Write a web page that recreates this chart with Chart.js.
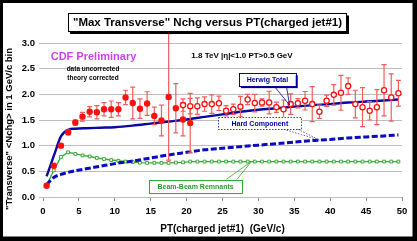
<!DOCTYPE html>
<html>
<head>
<meta charset="utf-8">
<script src="https://cdn.jsdelivr.net/npm/chart.js@4.4.1/dist/chart.umd.min.js"></script>
<style>
  html, body { margin: 0; padding: 0; background: #000; }
  #box { width: 417px; height: 241px; }
</style>
</head>
<body>
<div id="box"><canvas id="chart" width="417" height="241"></canvas></div>
<script>
// Measured "max transverse" charged multiplicity, low PT range (filled points)
const binsLow = [0.5, 1.5, 2.5, 3.5, 4.5, 5.5, 6.5, 7.5, 8.5, 9.5, 10.5,
                 11.5, 12.5, 13.5, 14.5, 15.5, 16.5, 17.5, 18.5, 19.5, 20.5];
const nchgLow = [0.22, 0.61, 1.00, 1.26, 1.45, 1.565, 1.66, 1.65, 1.71, 1.71, 1.71,
                 1.94, 1.83, 1.72, 1.82, 1.58, 1.49, 1.95, 1.73, 1.51, 1.44];
const errLow  = [0.02, 0.02, 0.03, 0.05, 0.05, 0.085, 0.10, 0.13, 0.13, 0.16, 0.13,
                 0.14, 0.31, 0.19, 0.23, 0.17, 0.30, 1.23, 0.48, 0.32, 0.58];

// high PT range (open points)
const binsHigh = [19.5, 20.5, 21.5, 22.5, 23.5, 24.5, 25.5, 26.5, 27.5, 28.5, 29.5,
                  30.5, 31.5, 32.5, 33.5, 34.5, 35.5, 36.5, 37.5, 38.5, 39.5,
                  40.5, 41.5, 42.5, 43.5, 44.5, 45.5, 46.5, 47.5, 48.5, 49.5];
const nchgHigh = [1.79, 1.77, 1.77, 1.81, 1.81, 1.825, 1.68, 1.71, 1.76, 1.90, 1.83,
                  1.84, 1.84, 1.75, 1.71, 1.81, 1.825, 1.875, 1.81, 1.66, 1.875,
                  1.99, 2.03, 2.16, 1.81, 1.75, 1.68, 1.75, 2.08, 1.94, 2.02];
const errHigh  = [0.12, 0.15, 0.16, 0.14, 0.18, 0.14, 0.10, 0.10, 0.20, 0.10, 0.17,
                  0.07, 0.22, 0.10, 0.18, 0.20, 0.09, 0.18, 0.34, 0.13, 0.11,
                  0.20, 0.34, 0.16, 0.27, 0.38, 0.18, 0.34, 0.50, 0.46, 0.25];

// Herwig curves
const curveX = [0.5, 1.5, 2.5, 3.5, 4.5, 6, 8, 10, 12.5, 15, 17.5, 20, 22.5,
                25, 27.5, 30, 32.5, 35, 37.5, 40, 42.5, 45, 47.5, 49.5];
const herwigTotal = [0.40, 0.80, 1.18, 1.31, 1.33, 1.34, 1.35, 1.36, 1.39, 1.43, 1.47, 1.51, 1.56,
                     1.61, 1.66, 1.70, 1.73, 1.76, 1.79, 1.81, 1.84, 1.86, 1.88, 1.90];
const hardComponent = [0.24, 0.38, 0.44, 0.48, 0.51, 0.55, 0.60, 0.65, 0.70, 0.76, 0.82, 0.87, 0.92,
                       0.95, 0.98, 1.01, 1.04, 1.07, 1.10, 1.12, 1.15, 1.17, 1.19, 1.21];

const remnantX = [0.5, 1.5, 2.5, 3.5, 4.5, 5.5, 6.5, 7.5, 8.5, 9.5,
                  10.5, 11.5, 12.5, 13.5, 14.5, 15.5, 16.5, 17.5, 18.5, 19.5,
                  20.5, 21.5, 22.5, 23.5, 24.5, 25.5, 26.5, 27.5, 28.5, 29.5,
                  30.5, 31.5, 32.5, 33.5, 34.5, 35.5, 36.5, 37.5, 38.5, 39.5,
                  40.5, 41.5, 42.5, 43.5, 44.5, 45.5, 46.5, 47.5, 48.5, 49.5];
const beamRemnants = [0.22, 0.52, 0.78, 0.87, 0.84, 0.81, 0.79, 0.76, 0.74, 0.72,
                      0.705, 0.69, 0.68, 0.67, 0.665, 0.665, 0.665, 0.665, 0.67, 0.675,
                      0.69, 0.69, 0.69, 0.69, 0.69, 0.69, 0.69, 0.69, 0.69, 0.69,
                      0.69, 0.69, 0.69, 0.69, 0.69, 0.69, 0.69, 0.69, 0.69, 0.69,
                      0.69, 0.69, 0.69, 0.69, 0.69, 0.69, 0.69, 0.69, 0.69, 0.69];

const xTicks = [0, 5, 10, 15, 20, 25, 30, 35, 40, 45, 50];
const yTicks = [0, 0.5, 1.0, 1.5, 2.0, 2.5, 3.0];

const FONT = '"Liberation Sans", Arial, sans-serif';

const pairs = (xs, ys) => xs.map((x, i) => ({ x: x, y: ys[i] }));

// callout boxes, placed in data coordinates
const callouts = [
  { text: 'Herwig Total', box: [27.3, 2.41, 35.2, 2.16], base: [32.2, 33.9], tip: [34.35, 1.79],
    color: '#000099', textColor: '#000099', dotted: false, shadow: true },
  { text: 'Hard Component', box: [24.4, 1.56, 36.0, 1.32], base: [33.5, 35.5], tip: [38.5, 1.11],
    color: '#3333CC', textColor: '#000099', dotted: true, shadow: false },
  { text: 'Beam-Beam Remnants', box: [14.8, 0.34, 27.7, 0.085], base: [25.5, 27.0], tip: [29.0, 0.69],
    color: '#33AA33', textColor: '#339933', dotted: false, shadow: false, up: true }
];

// frame of the slide
const framePlugin = {
  id: 'frame',
  beforeDraw(chart) {
    const ctx = chart.ctx;
    ctx.save();
    ctx.fillStyle = '#000';
    ctx.fillRect(0, 0, chart.width, chart.height);
    ctx.fillStyle = '#fff';
    ctx.fillRect(3, 3, 409.5, 233.5);
    ctx.restore();
  }
};

// vertical error bars drawn under each point dataset
const errorBars = {
  id: 'errorBars',
  beforeDatasetDraw(chart, args) {
    const ds = chart.data.datasets[args.index];
    if (!ds.errors) return;
    const { ctx, scales: { x, y } } = chart;
    ctx.save();
    ctx.strokeStyle = '#F45C5C';
    ctx.lineWidth = 1.2;
    ds.data.forEach((p, i) => {
      const px = x.getPixelForValue(p.x);
      const top = y.getPixelForValue(p.y + ds.errors[i]);
      const bot = y.getPixelForValue(p.y - ds.errors[i]);
      ctx.beginPath();
      ctx.moveTo(px, top); ctx.lineTo(px, bot);
      ctx.moveTo(px - 2.5, top); ctx.lineTo(px + 2.5, top);
      ctx.moveTo(px - 2.5, bot); ctx.lineTo(px + 2.5, bot);
      ctx.stroke();
    });
    ctx.restore();
  }
};

// titles, notes and callouts
const notes = {
  id: 'notes',
  afterDraw(chart) {
    const { ctx, scales: { x, y } } = chart;
    ctx.save();

    // title box with shadow
    ctx.fillStyle = '#000';
    ctx.fillRect(70, 15.5, 279, 18.5);
    ctx.fillStyle = '#fff';
    ctx.fillRect(68, 13.5, 279, 18.5);
    ctx.strokeStyle = '#000';
    ctx.lineWidth = 1;
    ctx.strokeRect(68.5, 13.5, 278, 18);
    ctx.fillStyle = '#000';
    ctx.font = 'bold 11.5px ' + FONT;
    ctx.textAlign = 'center';
    ctx.textBaseline = 'middle';
    ctx.fillText('"Max Transverse" Nchg versus PT(charged jet#1)', 207.5, 23);

    // y axis title
    ctx.save();
    ctx.translate(9, 129);
    ctx.rotate(-Math.PI / 2);
    ctx.font = 'bold 9.5px ' + FONT;
    ctx.fillText('"Transverse" <Nchg> in 1 GeV/c bin', 0, 0);
    ctx.restore();

    ctx.fillStyle = '#CC44EE';
    ctx.font = 'bold 11px ' + FONT;
    ctx.fillText('CDF Preliminary', 93.5, 56.5);

    ctx.fillStyle = '#000';
    ctx.font = 'bold 6.5px ' + FONT;
    ctx.fillText('data uncorrected', 93, 69.5);
    ctx.fillText('theory corrected', 93, 78);

    ctx.font = 'bold 8px ' + FONT;
    ctx.fillText('1.8 TeV |\u03B7|<1.0 PT>0.5 GeV', 242, 55.5);

    callouts.forEach(c => {
      const l = x.getPixelForValue(c.box[0]), t = y.getPixelForValue(c.box[1]);
      const r = x.getPixelForValue(c.box[2]), b = y.getPixelForValue(c.box[3]);
      const edge = c.up ? t : b;
      ctx.lineWidth = 0.8;
      ctx.strokeStyle = c.color;
      ctx.setLineDash(c.dotted ? [1.5, 1.5] : []);
      ctx.beginPath();
      ctx.moveTo(x.getPixelForValue(c.base[0]), edge);
      ctx.lineTo(x.getPixelForValue(c.tip[0]), y.getPixelForValue(c.tip[1]));
      ctx.lineTo(x.getPixelForValue(c.base[1]), edge);
      ctx.stroke();
      if (c.shadow) {
        ctx.fillStyle = '#000066';
        ctx.fillRect(l + 2, t + 2, r - l, b - t);
      }
      ctx.fillStyle = '#fff';
      ctx.fillRect(l, t, r - l, b - t);
      ctx.lineWidth = 1;
      ctx.strokeRect(Math.round(l) + 0.5, Math.round(t) + 0.5, Math.round(r - l), Math.round(b - t));
      ctx.setLineDash([]);
      ctx.fillStyle = c.textColor;
      ctx.font = 'bold 7px ' + FONT;
      ctx.fillText(c.text, (l + r) / 2, (t + b) / 2 + 0.5);
    });
    ctx.restore();
  }
};

new Chart(document.getElementById('chart'), {
  type: 'scatter',
  data: {
    datasets: [
      {
        label: 'Data (open)',
        data: pairs(binsHigh, nchgHigh),
        errors: errHigh,
        pointStyle: 'circle',
        pointRadius: 2.6,
        pointBorderWidth: 1.3,
        pointBackgroundColor: '#fff',
        pointBorderColor: '#FF1010',
        showLine: false
      },
      {
        label: 'Data (filled)',
        data: pairs(binsLow, nchgLow),
        errors: errLow,
        pointStyle: 'circle',
        pointRadius: 3.2,
        pointBorderWidth: 0,
        pointBackgroundColor: '#FF1010',
        showLine: false
      },
      {
        label: 'Herwig Total',
        data: pairs(curveX, herwigTotal),
        showLine: true,
        borderColor: '#0A0AA0',
        borderWidth: 2.4,
        pointRadius: 0,
        cubicInterpolationMode: 'monotone'
      },
      {
        label: 'Hard Component',
        data: pairs(curveX, hardComponent),
        showLine: true,
        borderColor: '#0A0ABE',
        borderWidth: 3,
        borderDash: [6, 2.5],
        pointRadius: 0,
        cubicInterpolationMode: 'monotone'
      },
      {
        label: 'Beam-Beam Remnants',
        data: pairs(remnantX, beamRemnants),
        showLine: true,
        borderColor: '#3CAA3C',
        borderWidth: 1.4,
        pointStyle: 'rect',
        pointRadius: 2,
        pointBorderWidth: 1,
        pointBackgroundColor: '#fff',
        pointBorderColor: '#3CAA3C'
      }
    ]
  },
  options: {
    responsive: false,
    animation: false,
    events: [],
    layout: { padding: { top: 43, right: 15, left: 0, bottom: 0 } },
    plugins: { legend: { display: false }, tooltip: { enabled: false } },
    scales: {
      x: {
        type: 'linear',
        min: 0,
        max: 50,
        afterFit: s => { s.height = 44; },
        afterBuildTicks: s => { s.ticks = xTicks.map(v => ({ value: v })); },
        grid: { drawOnChartArea: false, drawTicks: true, tickLength: 4, color: '#8C8C8C' },
        border: { display: false },
        ticks: { color: '#000', font: { family: FONT, size: 9.5, weight: 'bold' }, padding: 5 },
        title: {
          display: true,
          text: 'PT(charged jet#1)  (GeV/c)',
          color: '#000',
          font: { family: FONT, size: 10, weight: 'bold' },
          padding: { top: 0, bottom: 5.5 }
        }
      },
      y: {
        type: 'linear',
        min: 0,
        max: 3,
        afterFit: s => { s.width = 43; },
        afterBuildTicks: s => { s.ticks = yTicks.map(v => ({ value: v })); },
        grid: { color: '#BDBDBD', lineWidth: 1, tickLength: 4 },
        border: { display: false },
        ticks: {
          color: '#000',
          font: { family: FONT, size: 9.5, weight: 'bold' },
          padding: 4,
          callback: v => v.toFixed(1)
        }
      }
    }
  },
  plugins: [framePlugin, errorBars, notes]
});
</script>
</body>
</html>
